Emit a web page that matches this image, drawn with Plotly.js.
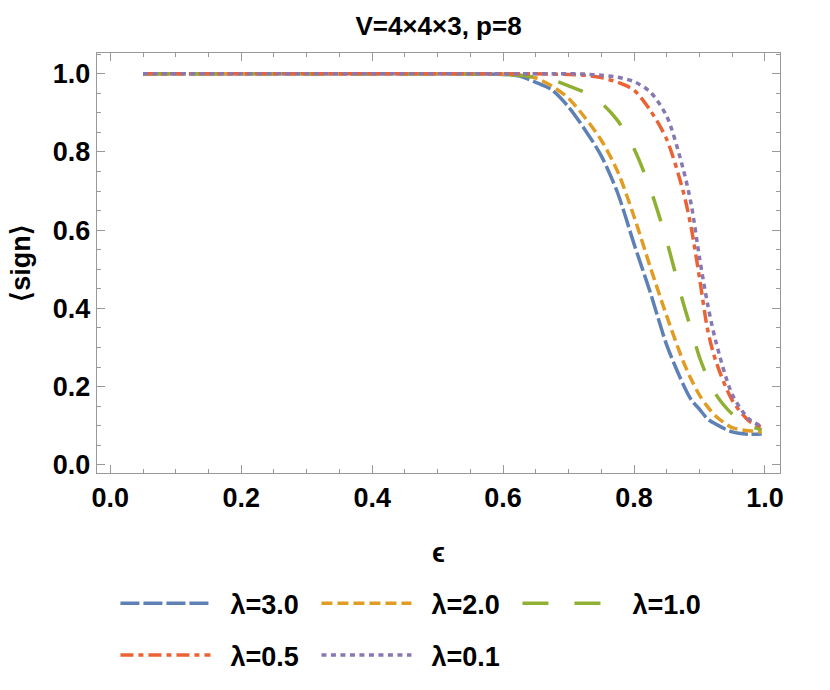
<!DOCTYPE html>
<html>
<head>
<meta charset="utf-8">
<script src="https://cdn.plot.ly/plotly-3.0.1.min.js"></script>
<style>
  body { margin: 0; background: #fff; }
  #plot { width: 830px; height: 690px; }
</style>
</head>
<body>
<div id="plot"></div>
<script>
// epsilon grid and <sign> values
const eps = [0.05, 0.1, 0.2, 0.3, 0.4, 0.5, 0.55, 0.6, 0.625, 0.65, 0.675, 0.7, 0.725,
             0.75, 0.775, 0.8, 0.825, 0.85, 0.875, 0.8875, 0.9, 0.9125, 0.925, 0.95, 0.975, 0.995];
const sign30 = [1, 1, 1, 1, 1, 1, 1, 0.998, 0.994, 0.978, 0.958, 0.915, 0.857,
                0.79, 0.695, 0.565, 0.44, 0.306, 0.206, 0.166, 0.142, 0.117, 0.104, 0.084, 0.078, 0.079];
const sign20 = [1, 1, 1, 1, 1, 1, 1, 0.999, 0.996, 0.989, 0.968, 0.937, 0.888,
                0.83, 0.75, 0.635, 0.505, 0.38, 0.265, 0.218, 0.178, 0.148, 0.124, 0.095, 0.087, 0.084];
const sign10 = [1, 1, 1, 1, 1, 1, 0.999, 0.998, 0.996, 0.991, 0.984, 0.969, 0.952,
                0.925, 0.88, 0.808, 0.705, 0.572, 0.415, 0.345, 0.275, 0.222, 0.18, 0.13, 0.101, 0.09];
const sign05 = [1, 1, 1, 1, 1, 1, 1, 1, 1, 1, 0.999, 0.998, 0.996,
                0.99, 0.978, 0.958, 0.906, 0.832, 0.70, 0.605, 0.478, 0.345, 0.265, 0.165, 0.113, 0.097];
const sign01 = [1, 1, 1, 1, 1, 1, 1, 1, 1, 1, 1, 1, 0.999,
                0.996, 0.991, 0.98, 0.953, 0.891, 0.757, 0.665, 0.53, 0.41, 0.315, 0.18, 0.118, 0.098];
const names = ['λ=3.0', 'λ=2.0', 'λ=1.0', 'λ=0.5', 'λ=0.1'];
const xTicks = [0, 0.2, 0.4, 0.6, 0.8, 1.0];
const yTicks = [0, 0.2, 0.4, 0.6, 0.8, 1.0];

const FONT = 'Liberation Sans, Arial, sans-serif';
const colors = ['#5E81B5', '#E19C24', '#8FB032', '#EB6235', '#8778B3'];
const dashes = ['19px,4px', '11px,5px', '26px,26px', '13px,5px,5px,5px', '5px,4.5px'];
const series = [sign30, sign20, sign10, sign05, sign01];
const legendOf = ['legend', 'legend', 'legend', 'legend2', 'legend2'];

let traces = [];
series.forEach((vals, i) => {
    traces.push({
        x: eps,
        y: vals,
        type: 'scatter',
        mode: 'lines',
        name: '\u00a0\u00a0' + names[i],
        legend: legendOf[i],
        line: { color: colors[i], width: 3.5, dash: dashes[i], shape: 'spline', smoothing: 0.8 }
    });
});

const axisCommon = {
    showline: true,
    linecolor: '#999',
    linewidth: 1.2,
    mirror: 'ticks',
    ticks: 'inside',
    ticklen: 8,
    tickcolor: '#999',
    tickwidth: 1,
    showgrid: false,
    zeroline: false,
    tickformat: '.1f',
    tickfont: { family: FONT, size: 27, color: '#000', weight: 'bold' },
    minor: { dtick: 0.05, ticks: 'inside', ticklen: 4, tickcolor: '#999', tickwidth: 1, showgrid: false }
};

const legendCommon = {
    orientation: 'h',
    xref: 'paper',
    yref: 'paper',
    xanchor: 'left',
    yanchor: 'middle',
    itemwidth: 90,
    entrywidth: 96,
    entrywidthmode: 'pixels',
    bgcolor: 'rgba(0,0,0,0)',
    font: { family: FONT, size: 27, color: '#000', weight: 'bold' }
};

const layout = {
    width: 830,
    height: 690,
    margin: { l: 97, r: 50, t: 53, b: 216 },
    paper_bgcolor: '#fff',
    plot_bgcolor: '#fff',
    title: {
        text: 'V=4×4×3, p=8',
        font: { family: FONT, size: 26, color: '#000', weight: 'bold' },
        xref: 'paper', x: 0.5, xanchor: 'center',
        yref: 'container', y: 0.963, yanchor: 'middle'
    },
    xaxis: Object.assign({}, axisCommon, {
        range: [-0.0203, 1.023],
        tickvals: xTicks,
        title: { text: 'ϵ', font: { family: FONT, size: 27, color: '#000', weight: 'bold' }, standoff: 31 }
    }),
    yaxis: Object.assign({}, axisCommon, {
        range: [-0.021, 1.053],
        tickvals: yTicks,
        title: { text: '⟨sign⟩', font: { family: FONT, size: 27, color: '#000', weight: 'bold' }, standoff: 14 }
    }),
    showlegend: true,
    legend: Object.assign({}, legendCommon, { x: 0.027, y: -0.308 }),
    legend2: Object.assign({}, legendCommon, { x: 0.027, y: -0.431 })
};

Plotly.newPlot('plot', traces, layout, { displayModeBar: false, staticPlot: true });
</script>
</body>
</html>
